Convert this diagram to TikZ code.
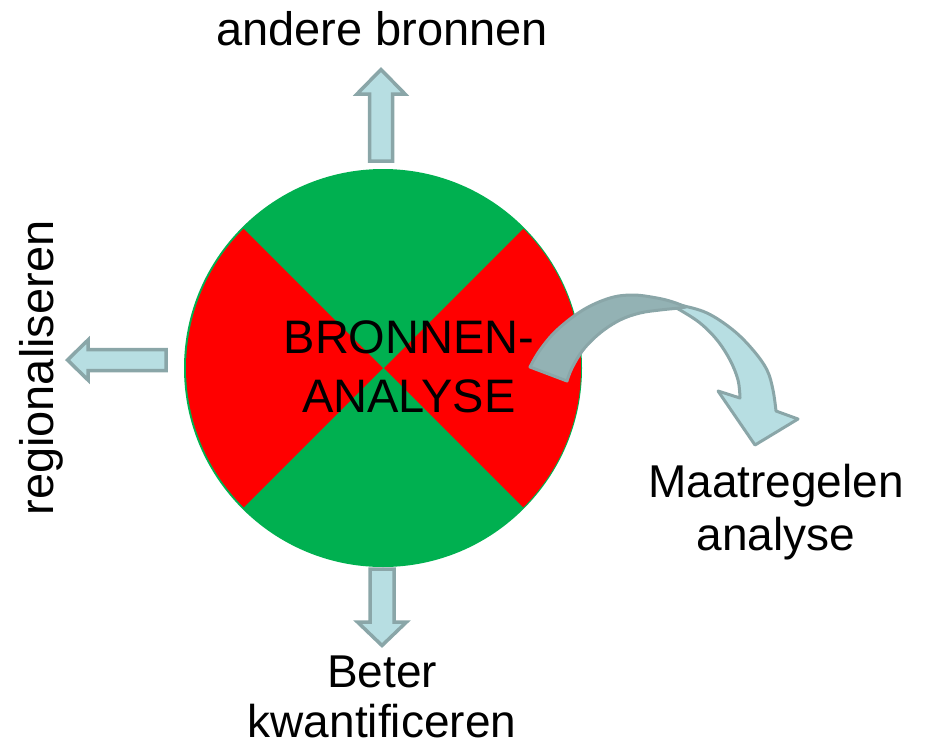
\documentclass[tikz,border=0pt]{standalone}
\usepackage{fontspec}
\setmainfont{Liberation Sans}
\definecolor{cgreen}{HTML}{00B050}
\definecolor{cred}{HTML}{FF0000}
\definecolor{afill}{HTML}{B7DEE2}
\definecolor{aline}{HTML}{8AA6A8}
\definecolor{adark}{HTML}{93B2B4}
\begin{document}
\begin{tikzpicture}[x=1pt,y=-1pt,
  lbl/.style={font=\fontsize{47}{56}\selectfont, inner sep=0pt, text=black},
  lbls/.style={font=\fontsize{46}{55}\selectfont, inner sep=0pt, text=black},
  blockarr/.style={fill=afill, draw=aline, line width=3.5pt, line join=miter},
  curvarr/.style={draw=aline, line width=3pt, line join=round}]
\useasboundingbox (0,0) rectangle (926,748);
% central disc
\coordinate (c) at (383,368);
\fill[cgreen] (c) circle[radius=199];
\fill[cred] (384,368) -- +(-45:197) arc[start angle=-45,end angle=45,radius=197] -- cycle;
\fill[cred] (383,368) -- +(135:197) arc[start angle=135,end angle=225,radius=197] -- cycle;
% straight block arrows
\filldraw[blockarr] (369.5,161) -- (369.5,94) -- (357,94) -- (381,69.5) -- (405,94) -- (392.5,94) -- (392.5,161) -- cycle;
\filldraw[blockarr] (166,349.5) -- (88,349.5) -- (88,340) -- (67.5,360) -- (88,380) -- (88,370.5) -- (166,370.5) -- cycle;
\filldraw[blockarr] (370,569) -- (370,622) -- (357.5,622) -- (382,645.5) -- (406.5,622) -- (394,622) -- (394,569) -- cycle;
% curved arrow: front (light) part with head
\filldraw[curvarr, fill=afill]
  plot[smooth, tension=0.6] coordinates {(660,301) (680,305) (707,313) (733,330) (753,350) (767,370) (773,390) (776,411)}
  -- (798,419) -- (755,445) -- (718,391)
  -- plot[smooth, tension=0.6] coordinates {(740,398) (738,380) (730,360) (717,340) (700,323) (680,310) (668,304)} -- cycle;
% curved arrow: back (dark) part
\filldraw[curvarr, fill=adark]
  plot[smooth, tension=0.6] coordinates {(530,367) (540,350) (557,330) (583,310) (610,298) (633,295) (657,298) (673,302) (686,307)}
  -- plot[smooth, tension=0.6] coordinates {(680,308) (660,310) (640,313) (620,320) (600,333) (583,350) (572,368) (567,381)} -- cycle;
% texts
\node[lbl, anchor=base] (bron1) at (409,353) {BRONNEN-};
\node[lbl, anchor=base] (bron2) at (409,412) {ANALYSE};
\node[lbl, anchor=base] (andere) at (382,45) {andere bronnen};
\node[lbl, anchor=base, rotate=90] (regio) at (53,368) {regionaliseren};
\node[lbls, anchor=base] (maat1) at (776,497) {Maatregelen};
\node[lbls, anchor=base] (maat2) at (776,550) {analyse};
\node[lbls, anchor=base] (beter1) at (382,687) {Beter};
\node[lbls, anchor=base] (beter2) at (382,737) {kwantificeren};
\end{tikzpicture}
\end{document}
